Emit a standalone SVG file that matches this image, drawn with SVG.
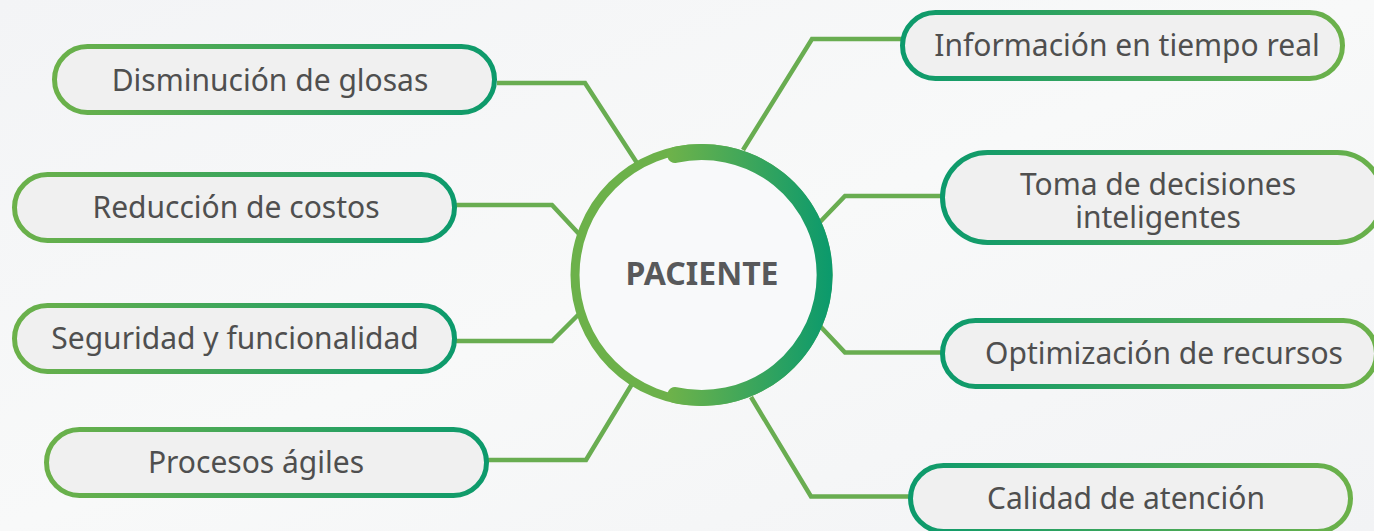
<svg xmlns="http://www.w3.org/2000/svg" width="1374" height="531" viewBox="0 0 1374 531">
  <defs>
    <linearGradient id="bg" x1="0" y1="0" x2="1" y2="1">
      <stop offset="0" stop-color="#f3f4f6"/>
      <stop offset="0.5" stop-color="#f8f9f9"/>
      <stop offset="1" stop-color="#f2f3f5"/>
    </linearGradient>
    <linearGradient id="gL" x1="0" y1="0" x2="1" y2="0">
      <stop offset="0" stop-color="#6cb14a"/>
      <stop offset="1" stop-color="#0c9a6c"/>
    </linearGradient>
    <linearGradient id="gR" x1="0" y1="0" x2="1" y2="0">
      <stop offset="0" stop-color="#0c9a6c"/>
      <stop offset="1" stop-color="#6cb14a"/>
    </linearGradient>
    <linearGradient id="gArc" gradientUnits="userSpaceOnUse" x1="670" y1="0" x2="830" y2="0">
      <stop offset="0" stop-color="#6db24a"/>
      <stop offset="1" stop-color="#0c9a6c"/>
    </linearGradient>
  </defs>
  <style>
    .pill { fill: #f0f0f0; stroke-width: 5; }
    .pl { stroke: url(#gL); }
    .pr { stroke: url(#gR); }
    .lbl { font-family: "Noto Sans", "Open Sans", sans-serif; font-size: 30px; fill: #4f4f4f; text-anchor: middle; }
    .conn { fill: none; stroke: #69ad51; stroke-width: 4.5; stroke-linejoin: miter; }
  </style>
  <rect x="0" y="0" width="1374" height="531" fill="url(#bg)"/>

  <g id="connectors">
    <polyline class="conn" points="497,83 585,83 637,163"/>
    <polyline class="conn" points="456,205 552,205 580,235"/>
    <polyline class="conn" points="456,341 552,341 580,313"/>
    <polyline class="conn" points="488,460 586,460 632,384"/>
    <polyline class="conn" points="743,150 812,39 902,39"/>
    <polyline class="conn" points="820,222 845,196 942,196"/>
    <polyline class="conn" points="820,326 845,352.5 942,352.5"/>
    <polyline class="conn" points="751,397 811,496.5 910,496.5"/>
  </g>

  <g id="center">
    <circle cx="701.5" cy="275" r="126.5" fill="#f8f9fa" stroke="#6cb14a" stroke-width="9"/>
    <path d="M675.1 154.9 A123 123 0 1 1 675.1 395.1" fill="none" stroke="url(#gArc)" stroke-width="16" stroke-linecap="round"/>
    <text x="702" y="285" font-family="Noto Sans, Open Sans, sans-serif" font-size="32" font-weight="700" fill="#58595b" text-anchor="middle">PACIENTE</text>
  </g>

  <g id="n1">
    <rect class="pill pl" x="54.5" y="46.5" width="440" height="66" rx="33"/>
    <text class="lbl" x="270" y="90.5">Disminución de glosas</text>
  </g>
  <g id="n2">
    <rect class="pill pl" x="14.5" y="174.5" width="440" height="66" rx="33"/>
    <text class="lbl" x="236" y="218">Reducción de costos</text>
  </g>
  <g id="n3">
    <rect class="pill pl" x="14.5" y="305.5" width="440" height="66" rx="33"/>
    <text class="lbl" x="235" y="349">Seguridad y funcionalidad</text>
  </g>
  <g id="n4">
    <rect class="pill pl" x="46.5" y="429.5" width="440" height="66" rx="33"/>
    <text class="lbl" x="256" y="473">Procesos ágiles</text>
  </g>
  <g id="n5">
    <rect class="pill pr" x="902.5" y="12.5" width="440" height="66" rx="33"/>
    <text class="lbl" x="1127" y="56">Información en tiempo real</text>
  </g>
  <g id="n6">
    <rect class="pill pr" x="942.5" y="152.5" width="440" height="90" rx="45"/>
    <text class="lbl" x="1158" y="195">Toma de decisiones<tspan x="1158" dy="33">inteligentes</tspan></text>
  </g>
  <g id="n7">
    <rect class="pill pr" x="942.5" y="320.5" width="434" height="66" rx="33"/>
    <text class="lbl" x="1164" y="364">Optimización de recursos</text>
  </g>
  <g id="n8">
    <rect class="pill pr" x="910.5" y="465.5" width="440" height="66" rx="33"/>
    <text class="lbl" x="1126" y="509">Calidad de atención</text>
  </g>
</svg>
